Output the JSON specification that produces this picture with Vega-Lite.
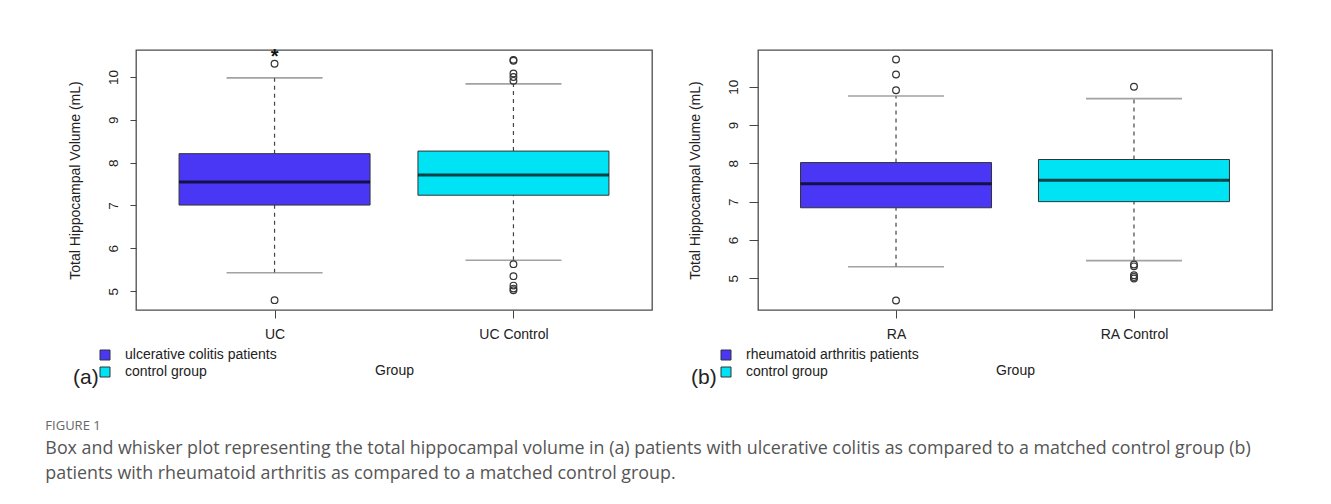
{
  "$schema": "https://vega.github.io/schema/vega-lite/v6.json",
  "padding": {"left": 45, "top": 45, "right": 5, "bottom": 5},
  "background": "white",
  "config": {
    "font": "Liberation Sans",
    "view": {"stroke": "#4d4d4d", "strokeWidth": 1.3},
    "axis": {"grid": false, "domain": false, "tickColor": "#444", "labelColor": "#222", "titleColor": "#222", "titleFontWeight": "normal", "labelFont": "Liberation Sans", "titleFont": "Liberation Sans"},
    "legend": {"padding": 0}
  },
  "datasets": {
    "ucBox": [
      {"group": "UC", "role": "ulcerative colitis patients", "lower": 5.43, "q1": 7.01, "median": 7.55, "q3": 8.21, "upper": 9.98},
      {"group": "UC Control", "role": "control group", "lower": 5.72, "q1": 7.24, "median": 7.71, "q3": 8.27, "upper": 9.84}
    ],
    "ucOut": [
      {"group": "UC", "value": 4.79},
      {"group": "UC", "value": 10.31},
      {"group": "UC Control", "value": 10.40},
      {"group": "UC Control", "value": 10.38},
      {"group": "UC Control", "value": 10.08},
      {"group": "UC Control", "value": 10.0},
      {"group": "UC Control", "value": 9.91},
      {"group": "UC Control", "value": 5.63},
      {"group": "UC Control", "value": 5.35},
      {"group": "UC Control", "value": 5.13},
      {"group": "UC Control", "value": 5.06},
      {"group": "UC Control", "value": 5.02}
    ],
    "ucMark": [
      {"group": "UC", "value": 10.5, "label": "*"}
    ],
    "raBox": [
      {"group": "RA", "role": "rheumatoid arthritis patients", "lower": 5.30, "q1": 6.84, "median": 7.47, "q3": 8.02, "upper": 9.76},
      {"group": "RA Control", "role": "control group", "lower": 5.46, "q1": 7.0, "median": 7.56, "q3": 8.10, "upper": 9.69}
    ],
    "raOut": [
      {"group": "RA", "value": 10.71},
      {"group": "RA", "value": 10.32},
      {"group": "RA", "value": 9.91},
      {"group": "RA", "value": 4.42},
      {"group": "RA Control", "value": 10.0},
      {"group": "RA Control", "value": 5.36},
      {"group": "RA Control", "value": 5.31},
      {"group": "RA Control", "value": 5.08},
      {"group": "RA Control", "value": 5.03},
      {"group": "RA Control", "value": 4.99}
    ]
  },
  "title": {
    "text": "FIGURE 1",
    "subtitle": [
      "Box and whisker plot representing the total hippocampal volume in (a) patients with ulcerative colitis as compared to a matched control group (b)",
      "patients with rheumatoid arthritis as compared to a matched control group."
    ],
    "orient": "bottom",
    "anchor": "start",
    "frame": "bounds",
    "dx": -22,
    "offset": 31,
    "font": "Open Sans",
    "fontSize": 13,
    "fontWeight": "normal",
    "color": "#666",
    "subtitleFont": "Open Sans",
    "subtitleFontSize": 17.85,
    "subtitleColor": "#555",
    "subtitleLineHeight": 25,
    "subtitlePadding": 7
  },
  "spacing": 106,
  "bounds": "flush",
  "hconcat": [
    {
      "width": 516,
      "height": 260,
      "title": {"text": "(a)", "orient": "bottom", "anchor": "start", "frame": "group", "dx": -63, "offset": -12, "fontSize": 21, "fontWeight": "normal", "color": "#222", "font": "Liberation Sans"},
      "encoding": {
        "x": {"field": "group", "type": "nominal", "scale": {"type": "point", "domain": ["UC", "UC Control"], "padding": 0.58},
          "axis": {"title": "Group", "labelAngle": 0, "tickSize": 8, "labelPadding": 9, "labelFontSize": 14, "titleFontSize": 14, "titlePadding": 22}}
      },
      "layer": [
        {
          "data": {"name": "ucBox"},
          "mark": {"type": "rule", "strokeDash": [4, 4], "color": "#444", "strokeWidth": 1.2},
          "encoding": {
            "y": {"field": "lower", "type": "quantitative", "scale": {"domain": [4.56, 10.63], "nice": false, "zero": false},
              "axis": {"values": [5, 6, 7, 8, 9, 10], "title": "Total Hippocampal Volume (mL)", "labelAngle": 270, "labelAlign": "center", "labelBaseline": "bottom", "tickSize": 6, "labelPadding": 10, "labelFontSize": 13.5, "titleFontSize": 14, "titlePadding": 24}},
            "y2": {"field": "q1"}
          }
        },
        {
          "data": {"name": "ucBox"},
          "mark": {"type": "rule", "strokeDash": [4, 4], "color": "#444", "strokeWidth": 1.2},
          "encoding": {"y": {"field": "q3", "type": "quantitative"}, "y2": {"field": "upper"}}
        },
        {
          "data": {"name": "ucBox"},
          "mark": {"type": "tick", "size": 96, "thickness": 1.6, "color": "#7a7a7a"},
          "encoding": {"y": {"field": "lower", "type": "quantitative"}}
        },
        {
          "data": {"name": "ucBox"},
          "mark": {"type": "tick", "size": 96, "thickness": 1.6, "color": "#7a7a7a"},
          "encoding": {"y": {"field": "upper", "type": "quantitative"}}
        },
        {
          "data": {"name": "ucBox"},
          "mark": {"type": "bar", "size": 191, "stroke": "#333", "strokeWidth": 1, "opacity": 1},
          "encoding": {
            "y": {"field": "q1", "type": "quantitative"},
            "y2": {"field": "q3"},
            "color": {"field": "role", "type": "nominal",
              "scale": {"domain": ["ulcerative colitis patients", "control group"], "range": ["#4a37f6", "#00e3f5"]},
              "legend": {"title": null, "orient": "none", "legendX": -38, "legendY": 298, "symbolType": "square", "symbolSize": 100, "symbolStrokeColor": "#333", "symbolStrokeWidth": 1, "symbolOpacity": 1, "labelFontSize": 14, "labelColor": "#222", "labelOffset": 13, "labelLimit": 400, "rowPadding": 3, "labelFont": "Liberation Sans"}}
          }
        },
        {
          "data": {"name": "ucBox"},
          "mark": {"type": "tick", "size": 191, "thickness": 3, "color": "#000"},
          "encoding": {"y": {"field": "median", "type": "quantitative"}}
        },
        {
          "data": {"name": "ucOut"},
          "mark": {"type": "point", "shape": "circle", "filled": false, "size": 45, "color": "#333", "strokeWidth": 1.2, "opacity": 1},
          "encoding": {"y": {"field": "value", "type": "quantitative"}}
        },
        {
          "data": {"name": "ucMark"},
          "mark": {"type": "text", "fontSize": 20, "fontWeight": "bold", "color": "#111", "baseline": "middle", "dy": 1},
          "encoding": {"y": {"field": "value", "type": "quantitative"}, "text": {"field": "label"}}
        }
      ]
    },
    {
      "width": 514,
      "height": 260,
      "title": {"text": "(b)", "orient": "bottom", "anchor": "start", "frame": "group", "dx": -67, "offset": -12, "fontSize": 21, "fontWeight": "normal", "color": "#222", "font": "Liberation Sans"},
      "encoding": {
        "x": {"field": "group", "type": "nominal", "scale": {"type": "point", "domain": ["RA", "RA Control"], "padding": 0.58},
          "axis": {"title": "Group", "labelAngle": 0, "tickSize": 8, "labelPadding": 9, "labelFontSize": 14, "titleFontSize": 14, "titlePadding": 22}}
      },
      "layer": [
        {
          "data": {"name": "raBox"},
          "mark": {"type": "rule", "strokeDash": [4, 4], "color": "#444", "strokeWidth": 1.2},
          "encoding": {
            "y": {"field": "lower", "type": "quantitative", "scale": {"domain": [4.17, 10.96], "nice": false, "zero": false},
              "axis": {"values": [5, 6, 7, 8, 9, 10], "title": "Total Hippocampal Volume (mL)", "labelAngle": 270, "labelAlign": "center", "labelBaseline": "bottom", "tickSize": 9, "labelPadding": 9, "labelFontSize": 13.5, "titleFontSize": 14, "titlePadding": 24}},
            "y2": {"field": "q1"}
          }
        },
        {
          "data": {"name": "raBox"},
          "mark": {"type": "rule", "strokeDash": [4, 4], "color": "#444", "strokeWidth": 1.2},
          "encoding": {"y": {"field": "q3", "type": "quantitative"}, "y2": {"field": "upper"}}
        },
        {
          "data": {"name": "raBox"},
          "mark": {"type": "tick", "size": 96, "thickness": 1.6, "color": "#7a7a7a"},
          "encoding": {"y": {"field": "lower", "type": "quantitative"}}
        },
        {
          "data": {"name": "raBox"},
          "mark": {"type": "tick", "size": 96, "thickness": 1.6, "color": "#7a7a7a"},
          "encoding": {"y": {"field": "upper", "type": "quantitative"}}
        },
        {
          "data": {"name": "raBox"},
          "mark": {"type": "bar", "size": 191, "stroke": "#333", "strokeWidth": 1, "opacity": 1},
          "encoding": {
            "y": {"field": "q1", "type": "quantitative"},
            "y2": {"field": "q3"},
            "color": {"field": "role", "type": "nominal",
              "scale": {"domain": ["rheumatoid arthritis patients", "control group"], "range": ["#4a37f6", "#00e3f5"]},
              "legend": {"title": null, "orient": "none", "legendX": -39, "legendY": 298, "symbolType": "square", "symbolSize": 100, "symbolStrokeColor": "#333", "symbolStrokeWidth": 1, "symbolOpacity": 1, "labelFontSize": 14, "labelColor": "#222", "labelOffset": 13, "labelLimit": 400, "rowPadding": 3, "labelFont": "Liberation Sans"}}
          }
        },
        {
          "data": {"name": "raBox"},
          "mark": {"type": "tick", "size": 191, "thickness": 3, "color": "#000"},
          "encoding": {"y": {"field": "median", "type": "quantitative"}}
        },
        {
          "data": {"name": "raOut"},
          "mark": {"type": "point", "shape": "circle", "filled": false, "size": 45, "color": "#333", "strokeWidth": 1.2, "opacity": 1},
          "encoding": {"y": {"field": "value", "type": "quantitative"}}
        }
      ]
    }
  ],
  "resolve": {"scale": {"color": "independent"}}
}
